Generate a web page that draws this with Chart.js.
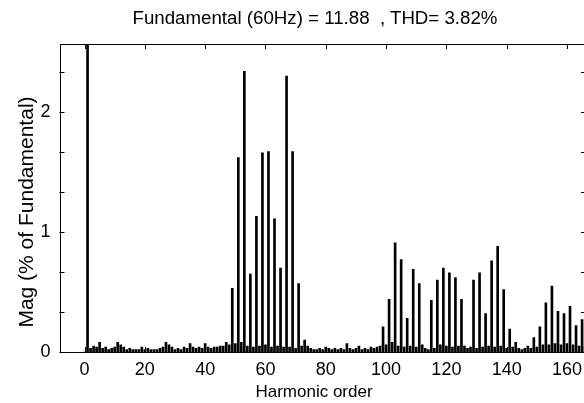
<!DOCTYPE html>
<html>
<head>
<meta charset="utf-8">
<script src="https://cdn.jsdelivr.net/npm/chart.js@4.4.1/dist/chart.umd.min.js"></script>
<style>
  html, body { margin: 0; padding: 0; background: #fff; overflow: hidden; }
  #wrap { position: relative; width: 630px; height: 403px; }
  #wrap canvas { position: absolute; left: 0; top: 0; }
  .lbl { position: absolute; font-family: "Liberation Sans", Arial, sans-serif; color: #000; white-space: pre; text-align: center; }
  #title { left: 0; top: 7px; width: 630px; font-size: 18.7px; line-height: 22px; }
  #xlabel { left: 164px; top: 381px; width: 300px; font-size: 17px; line-height: 22px; }
  #ylabel { left: -124px; top: 201px; width: 300px; font-size: 21px; line-height: 22px; transform: rotate(-90deg); }
</style>
</head>
<body>
<div id="wrap">
  <canvas id="fft" width="630" height="403"></canvas>
  <div id="title" class="lbl"></div>
  <div id="xlabel" class="lbl"></div>
  <div id="ylabel" class="lbl"></div>
</div>
<script>
// FFT spectrum, index = harmonic order (0..166), magnitude in % of fundamental
const magnitude = [
  0.00, 100, 0.03, 0.05, 0.04, 0.08, 0.03, 0.04, 0.02, 0.03,   // 0-9
  0.04, 0.08, 0.06, 0.04, 0.02, 0.03, 0.02, 0.02, 0.02, 0.04,  // 10-19
  0.02, 0.03, 0.02, 0.02, 0.02, 0.03, 0.04, 0.08, 0.06, 0.04,  // 20-29
  0.02, 0.03, 0.02, 0.04, 0.03, 0.07, 0.04, 0.03, 0.04, 0.03,  // 30-39
  0.07, 0.04, 0.03, 0.04, 0.04, 0.05, 0.05, 0.08, 0.06, 0.53,  // 40-49
  0.07, 1.62, 0.08, 2.34, 0.05, 0.65, 0.04, 1.13, 0.05, 1.66,  // 50-59
  0.06, 1.67, 0.04, 1.11, 0.05, 0.70, 0.04, 2.30, 0.04, 1.67,  // 60-69
  0.03, 0.57, 0.05, 0.10, 0.05, 0.03, 0.02, 0.02, 0.03, 0.02,  // 70-79
  0.04, 0.03, 0.02, 0.03, 0.02, 0.03, 0.02, 0.07, 0.03, 0.02,  // 80-89
  0.03, 0.05, 0.02, 0.03, 0.02, 0.04, 0.03, 0.04, 0.05, 0.21,  // 90-99
  0.06, 0.44, 0.08, 0.91, 0.05, 0.77, 0.04, 0.28, 0.05, 0.69,  // 100-109
  0.04, 0.57, 0.06, 0.03, 0.02, 0.43, 0.03, 0.60, 0.06, 0.70,  // 110-119
  0.05, 0.66, 0.04, 0.62, 0.05, 0.44, 0.05, 0.03, 0.04, 0.60,  // 120-129
  0.03, 0.66, 0.04, 0.32, 0.05, 0.76, 0.04, 0.88, 0.05, 0.52,  // 130-139
  0.03, 0.19, 0.04, 0.08, 0.03, 0.02, 0.03, 0.05, 0.03, 0.12,  // 140-149
  0.04, 0.21, 0.06, 0.41, 0.06, 0.55, 0.07, 0.34, 0.06, 0.32,  // 150-159
  0.07, 0.38, 0.06, 0.22, 0.05, 0.27, 0.05                     // 160-166
];
const xTickValues = [0, 20, 40, 60, 80, 100, 120, 140, 160];
const yTickValues = [0, 1 / 3, 2 / 3, 1, 4 / 3, 5 / 3, 2, 7 / 3];
const yTickLabels = ['0', '', '', '1', '', '', '2', ''];

const titleText = 'Fundamental (60Hz) = 11.88  , THD= 3.82%';
const xTitle = 'Harmonic order';
const yTitle = 'Mag (% of Fundamental)';
const fontFamily = '"Liberation Sans", Arial, sans-serif';

document.getElementById('title').textContent = titleText;
document.getElementById('xlabel').textContent = xTitle;
document.getElementById('ylabel').textContent = yTitle;

// MATLAB style box with ticks pointing inwards on all four sides
const matlabBox = {
  id: 'matlabBox',
  afterDatasetsDraw(chart) {
    const { ctx, chartArea: a, scales: { x, y } } = chart;
    const len = 5;
    ctx.save();
    ctx.strokeStyle = '#000';
    ctx.lineWidth = 1;
    ctx.strokeRect(Math.round(a.left) + 0.5, Math.round(a.top) + 0.5,
      Math.round(a.right - a.left), Math.round(a.bottom - a.top));
    ctx.beginPath();
    x.ticks.forEach(t => {
      const px = Math.round(x.getPixelForValue(t.value)) + 0.5;
      ctx.moveTo(px, a.top); ctx.lineTo(px, a.top + len);
      ctx.moveTo(px, a.bottom); ctx.lineTo(px, a.bottom - len);
    });
    y.ticks.forEach(t => {
      const py = Math.round(y.getPixelForValue(t.value)) + 0.5;
      ctx.moveTo(a.left, py); ctx.lineTo(a.left + len, py);
      ctx.moveTo(a.right, py); ctx.lineTo(a.right - len, py);
    });
    ctx.stroke();
    ctx.restore();
  }
};

new Chart(document.getElementById('fft'), {
  type: 'bar',
  data: {
    datasets: [{
      data: magnitude.map((v, i) => ({ x: i, y: v })),
      backgroundColor: '#000',
      borderWidth: 0,
      barThickness: 2
    }]
  },
  options: {
    responsive: false,
    animation: false,
    layout: { padding: { left: 0, right: 44, top: 44, bottom: 0 } },
    scales: {
      x: {
        type: 'linear',
        min: -8.3,
        max: 166.3,
        offset: false,
        afterBuildTicks: s => { s.ticks = xTickValues.map(v => ({ value: v })); },
        afterFit: s => { s.height = 51; },
        grid: { display: false, drawTicks: false },
        border: { display: false },
        ticks: { color: '#000', padding: 7, maxRotation: 0, font: { family: fontFamily, size: 18 } },
        title: { display: false }
      },
      y: {
        min: 0,
        max: 2.567,
        afterBuildTicks: s => { s.ticks = yTickValues.map(v => ({ value: v })); },
        afterFit: s => { s.width = 59.5; },
        grid: { display: false, drawTicks: false },
        border: { display: false },
        ticks: {
          color: '#000', padding: 9, font: { family: fontFamily, size: 18 },
          callback: (v, i) => yTickLabels[i]
        },
        title: { display: false }
      }
    },
    plugins: {
      legend: { display: false },
      tooltip: { enabled: false },
      title: { display: false }
    }
  },
  plugins: [matlabBox]
});
</script>
</body>
</html>
